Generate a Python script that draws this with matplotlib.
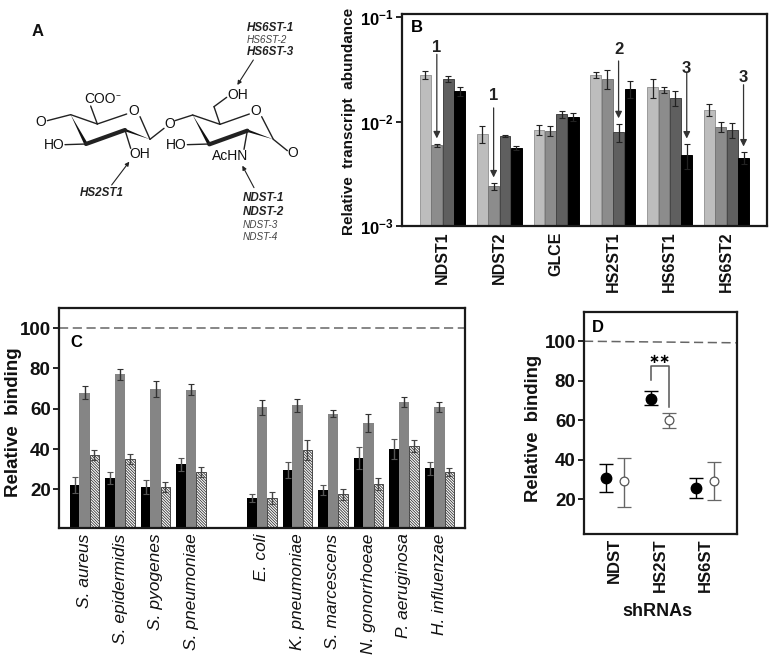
import numpy as np
import matplotlib
matplotlib.use("Agg")
import matplotlib.pyplot as plt

W, H = 773, 658

plt.rcParams["font.family"] = ["Liberation Sans", "DejaVu Sans"]
plt.rcParams["mathtext.fontset"] = "custom"
plt.rcParams["mathtext.bf"] = "Liberation Sans:bold"
plt.rcParams["mathtext.rm"] = "Liberation Sans:bold"
plt.rcParams["hatch.linewidth"] = 0.6

# panel B
genes = ["NDST1", "NDST2", "GLCE", "HS2ST1", "HS6ST1", "HS6ST2"]
b_s1 = [0.0278, 0.00765, 0.0083, 0.0280, 0.0212, 0.0130]
b_s2 = [0.0059, 0.0024, 0.0082, 0.0257, 0.0199, 0.0089]
b_s3 = [0.0257, 0.00727, 0.0117, 0.0079, 0.0167, 0.0083]
b_s4 = [0.0195, 0.00556, 0.0110, 0.0207, 0.00478, 0.0045]
b_e1 = [0.0025, 0.0014, 0.0009, 0.0021, 0.0044, 0.0016]
b_e2 = [0.0002, 0.00018, 0.00086, 0.0051, 0.0013, 0.0010]
b_e3 = [0.0016, 0.00018, 0.00087, 0.0016, 0.0027, 0.0013]
b_e4 = [0.0018, 0.00027, 0.00098, 0.0038, 0.0013, 0.0006]

# panel C
species = ["S. aureus", "S. epidermidis", "S. pyogenes", "S. pneumoniae",
           "E. coli", "K. pneumoniae", "S. marcescens", "N. gonorrhoeae",
           "P. aeruginosa", "H. influenzae"]
c_pos = [0, 1, 2, 3, 5, 6, 7, 8, 9, 10]
c_black = [22, 25.5, 21, 32.5, 15.7, 29.5, 19.5, 35.5, 40, 30.5]
c_gray = [68, 77, 70, 69.5, 60.8, 61.7, 57.5, 53, 63.5, 60.8]
c_hatch = [37, 35, 21, 28.5, 15.5, 39.5, 17.5, 22.5, 41.5, 28.5]
c_black_err = [4, 3, 3.5, 3.2, 2.2, 4, 2.5, 5.5, 5, 3.3]
c_gray_err = [3.3, 2.5, 4, 2.6, 3.7, 3.1, 1.7, 4.5, 2.4, 2.5]
c_hatch_err = [2.5, 2.3, 2.5, 2.5, 3, 4.8, 2.8, 3, 2.8, 2.1]

# panel D
shrnas = ["NDST", "HS2ST", "HS6ST"]
d_black = [31, 71, 25.5]
d_black_lo = [7.5, 3.5, 5]
d_black_hi = [7, 4, 5.5]
d_open = [29, 60, 29]
d_open_lo = [13, 4, 9.5]
d_open_hi = [12, 3.5, 10]


def add_ax(left, top, right, bottom):
    ax = fig.add_axes([left / W, 1 - bottom / H, (right - left) / W, (bottom - top) / H])
    for s in ax.spines.values():
        s.set_linewidth(1.6)
        s.set_color("#1a1a1a")
    return ax


fig = plt.figure(figsize=(W / 100, H / 100), dpi=100)

# panel A, drawn in pixel coordinates of the zoomed structure
a = fig.add_axes([0, 0, 1, 1])
a.set_xlim(0, W)
a.set_ylim(H, 0)
a.axis("off")


def bond(x1, y1, x2, y2, lw=1.0):
    a.plot([x1 / 3, x2 / 3], [y1 / 3, y2 / 3], color="#222222", lw=lw, solid_capstyle="round")


def wedge(x1, y1, x2, y2, w=3.0):
    dx, dy = x2 - x1, y2 - y1
    n = np.hypot(dx, dy)
    px, py = -dy / n * w * 3 / 2, dx / n * w * 3 / 2
    a.fill([x1 / 3, (x2 + px) / 3, (x2 - px) / 3], [y1 / 3, (y2 + py) / 3, (y2 - py) / 3],
           color="#111111", lw=0)


def ring(c4, c5, o1, o2, c1, c2, c3):
    bond(*c4, *c5)
    bond(*c5, *o1)
    bond(*o2, *c1)
    wedge(*c1, *c2, w=2.5)
    bond(*c2, *c3, lw=3.0)
    wedge(*c4, *c3, w=3.5)


ring((212, 344), (292, 372), (380, 342), (420, 350), (450, 418), (375, 390), (258, 432))
ring((578, 345), (660, 373), (748, 342), (785, 350), (820, 418), (742, 392), (628, 433))
bond(142, 362, 212, 344)
bond(292, 372, 272, 318)
bond(195, 434, 258, 432)
bond(375, 390, 392, 445)
bond(450, 418, 492, 385)
bond(525, 362, 578, 345)
bond(660, 373, 642, 320)
bond(642, 320, 680, 292)
bond(562, 434, 628, 432)
bond(742, 392, 732, 448)
bond(820, 418, 862, 452)

atoms = [("O", 122, 367), ("O", 400, 332), ("HO", 162, 434), ("OH", 418, 462), ("O", 508, 371),
         ("O", 767, 333), ("OH", 712, 284), ("HO", 530, 434), ("AcHN", 690, 468), ("O", 878, 460)]
for t, x, y in atoms:
    a.text(x / 3, y / 3, t, fontsize=10, ha="center", va="center", color="#111111",
           fontweight="medium")
a.text(300 / 3, 298 / 3, "COO", fontsize=10, ha="center", va="center", color="#111111")
a.text(355 / 3, 287 / 3, "\u2212", fontsize=6, ha="center", va="center", color="#111111")

for x1, y1, x2, y2 in [(760, 180, 712, 255), (335, 555, 388, 485), (762, 563, 727, 497)]:
    a.annotate("", xy=(x2 / 3, y2 / 3), xytext=(x1 / 3, y1 / 3),
               arrowprops=dict(arrowstyle="-|>", color="#222222", lw=0.8, mutation_scale=6,
                               shrinkA=0, shrinkB=0))

a.text(38, 31, "A", fontsize=12, fontweight="bold", ha="center", va="center", color="#111111")
for t, x, y, strong in [("HS6ST-1", 247, 28, True), ("HS6ST-2", 247, 40, False),
                        ("HS6ST-3", 247, 52, True), ("NDST-1", 243, 198, True),
                        ("NDST-2", 243, 212, True), ("NDST-3", 243, 225, False),
                        ("NDST-4", 243, 237, False), ("HS2ST1", 80, 193, True)]:
    a.text(x, y, t, fontsize=8.4 if strong else 7.2, style="italic",
           fontweight="bold" if strong else "normal", ha="left", va="center",
           color="#222222" if strong else "#444444")

# panel B
ax = add_ax(402, 14, 767, 226)
x = np.arange(len(genes))
b_series = [(b_s1, b_e1, "#bdbdbd", "#9a9a9a"), (b_s2, b_e2, "#8c8c8c", "#777777"),
            (b_s3, b_e3, "#5f5f5f", "#444444"), (b_s4, b_e4, "#000000", "#000000")]
for i, (vals, errs, col, edge) in enumerate(b_series):
    ax.bar(x + (i - 1.5) * 0.2, vals, 0.19, color=col, edgecolor=edge, lw=0.7,
           yerr=errs, ecolor="#222222", error_kw=dict(elinewidth=0.9, capsize=2.2, capthick=0.8))
ax.set_yscale("log")
ax.set_xlim(-0.713, 5.713)
ax.set_ylim(1e-3, 1.07e-1)
ax.set_yticks([1e-3, 1e-2, 1e-1])
ax.set_yticklabels([r"$\mathbf{10^{-3}}$", r"$\mathbf{10^{-2}}$", r"$\mathbf{10^{-1}}$"], fontsize=12)
ax.minorticks_off()
ax.tick_params(axis="y", length=4, width=1.2, pad=2)
ax.set_xticks(x)
ax.set_xticklabels(genes, rotation=90, fontsize=11.5, fontweight="bold", color="#111111")
ax.tick_params(axis="x", length=0, pad=4)
ax.text(0.04, 0.934, "B", transform=ax.transAxes, fontsize=12, fontweight="bold", ha="center", va="center")
fig.text(349 / W, 1 - 121 / H, "Relative  transcript  abundance", rotation=90, fontsize=11,
         fontweight="bold", ha="center", va="center", color="#111111")

# arrows point at the knocked down bar of each gene
for label, g, s, tail, label_y in [("1", 0, 1, 0.044, 0.051), ("1", 1, 1, 0.0135, 0.0176),
                                   ("2", 3, 2, 0.038, 0.049), ("3", 4, 3, 0.0295, 0.0325),
                                   ("3", 5, 3, 0.0225, 0.0262)]:
    xb = g + (s - 1.5) * 0.2
    tip = b_series[s][0][g] + b_series[s][1][g]
    ax.annotate("", xy=(xb, tip * 1.13), xytext=(xb, tail),
                arrowprops=dict(arrowstyle="-|>", color="#333333", lw=0.9, mutation_scale=10,
                                shrinkA=0, shrinkB=0))
    ax.text(xb, label_y, label, fontsize=12, fontweight="bold", ha="center", va="center", color="#222222")

# panel C
ax = add_ax(59, 308, 465, 528)
pos = np.array(c_pos)
ebar = dict(elinewidth=1.0, capsize=2.0, capthick=0.8)
ax.bar(pos - 0.28, c_black, 0.27, color="black", yerr=c_black_err, ecolor="#555555", error_kw=ebar)
ax.bar(pos, c_gray, 0.29, color="#858585", yerr=c_gray_err, ecolor="#333333", error_kw=ebar)
ax.bar(pos + 0.28, c_hatch, 0.27, color="white", edgecolor="#333333", lw=0.6, hatch="\\" * 12,
       yerr=c_hatch_err, ecolor="#444444", error_kw=ebar)
ax.axhline(100, color="#666666", lw=1.1, dashes=(6, 3))
ax.set_xlim(-0.72, 10.72)
ax.set_ylim(0.8, 110)
ax.set_yticks([20, 40, 60, 80, 100])
ax.set_yticklabels(["20", "40", "60", "80", "100"], fontsize=13.5, fontweight="bold", color="#111111")
ax.tick_params(axis="y", length=4, width=1.2, pad=2)
ax.set_xticks(pos)
ax.set_xticklabels(species, rotation=90, fontsize=12.5, style="italic", color="#111111")
ax.tick_params(axis="x", length=0, pad=4)
ax.text(0.042, 0.845, "C", transform=ax.transAxes, fontsize=12, fontweight="bold", ha="center", va="center")
fig.text(14 / W, 1 - 422 / H, "Relative  binding", rotation=90, fontsize=13.5,
         fontweight="bold", ha="center", va="center", color="#111111")

# panel D
ax = add_ax(584, 312, 737, 534)
g = np.arange(len(shrnas))
ax.errorbar(g - 0.2, d_black, yerr=[d_black_lo, d_black_hi], fmt="o", color="black", ms=7.5,
            elinewidth=1.0, capsize=4.8, capthick=1.0)
ax.errorbar(g + 0.2, d_open, yerr=[d_open_lo, d_open_hi], fmt="o", mfc="white", mec="#555555", ms=6.3,
            ecolor="#666666", elinewidth=1.0, capsize=4.8, capthick=1.0, mew=0.9)
ax.plot([-0.68, 2.706], [100, 99.2], color="#666666", lw=1.1, dashes=(6, 3))
ax.plot([0.8, 0.8, 1.2, 1.2], [80.4, 87.5, 87.5, 66.6], color="#555555", lw=1.1)
ax.text(1.0, 91, "\u2217\u2217", fontsize=9.5, fontweight="bold", ha="center", va="center",
        family=["DejaVu Sans"])
ax.set_xlim(-0.68, 2.706)
ax.set_ylim(2.4, 114.8)
ax.set_yticks([20, 40, 60, 80, 100])
ax.set_yticklabels(["20", "40", "60", "80", "100"], fontsize=13.5, fontweight="bold", color="#111111")
ax.tick_params(axis="y", length=4, width=1.2, pad=2)
ax.set_xticks(g)
ax.set_xticklabels(shrnas, rotation=90, fontsize=12, fontweight="bold", color="#111111")
ax.tick_params(axis="x", length=0, pad=3)
ax.text(0.09, 0.93, "D", transform=ax.transAxes, fontsize=12, fontweight="bold", ha="center", va="center")
fig.text(534 / W, 1 - 428 / H, "Relative  binding", rotation=90, fontsize=13.3,
         fontweight="bold", ha="center", va="center", color="#111111")
fig.text(657 / W, 1 - 612 / H, "shRNAs", fontsize=13, fontweight="bold", ha="center", va="center",
         color="#111111")

fig.savefig("out.png", dpi=100)
